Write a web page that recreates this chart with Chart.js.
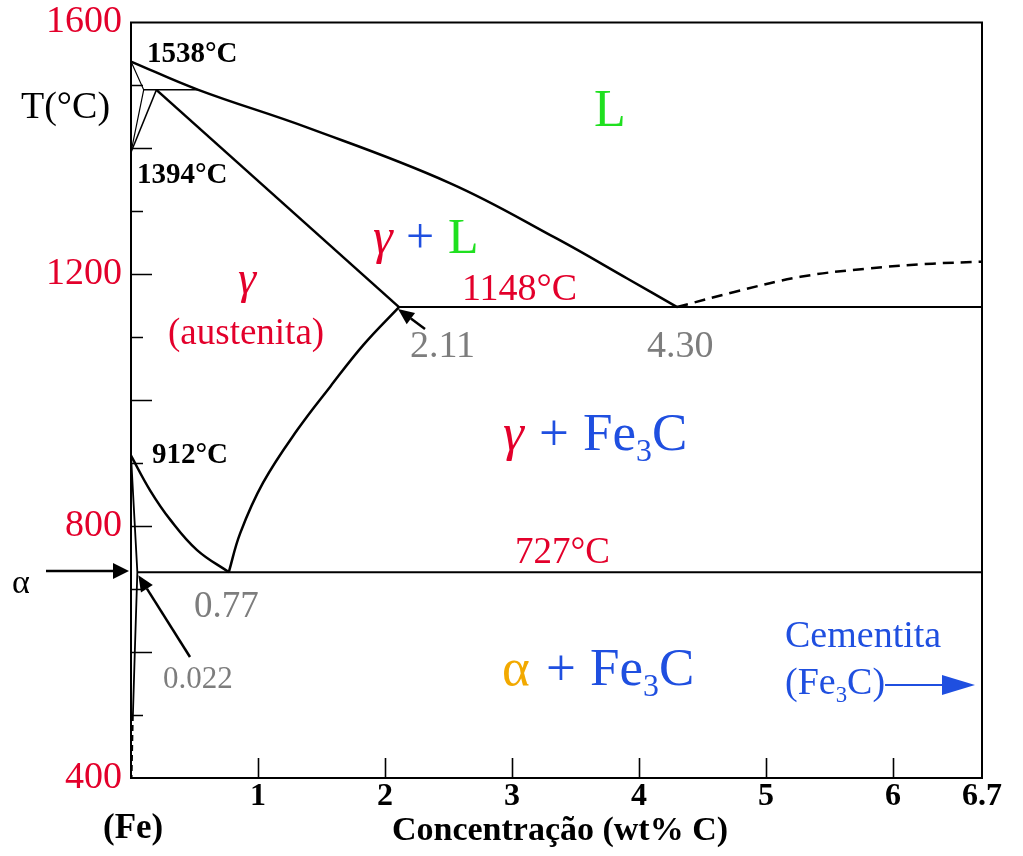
<!DOCTYPE html>
<html>
<head>
<meta charset="utf-8">
<script src="https://cdn.jsdelivr.net/npm/chart.js@4"></script>
<style>
    html, body { margin: 0; padding: 0; background: #fff; }
    #wrap { width: 1023px; height: 856px; position: relative; }
</style>
</head>
<body>
<div id="wrap"><canvas id="phaseChart"></canvas></div>
<script>
// Fe-Fe3C phase diagram, x = wt% C, y = temperature (°C)
const liquidusC = [0, 0.53, 1.39, 2.51, 3.35, 3.91, 4.30];
const liquidusT = [1538, 1493, 1433, 1345, 1257, 1193, 1148];
const cementiteLiqC = [4.30, 4.75, 5.27, 5.79, 6.31, 6.7];
const cementiteLiqT = [1148, 1172, 1196, 1209, 1217, 1220];
const solidusC = [0.2, 2.11];
const solidusT = [1493, 1148];
const acmC = [0.77, 0.86, 1.04, 1.31, 1.57, 1.83, 2.11];
const acmT = [727, 789, 869, 953, 1022, 1088, 1148];
const a3C = [0, 0.15, 0.31, 0.52, 0.77];
const a3T = [912, 857, 810, 762, 727];
const eutecticC = [2.11, 6.7];
const eutecticT = [1148, 1148];
const eutectoidC = [0.05, 6.7];
const eutectoidT = [727, 727];
const alphaC = [0, 0.05, 0.03, 0.015, 0.005];
const alphaT = [912, 727, 600, 500, 400];
const peritecticC = [0.1, 0.53];
const peritecticT = [1493, 1493];
const deltaC = [0, 0.1, 0];
const deltaT = [1538, 1493, 1394];
const deltaGammaC = [0.2, 0];
const deltaGammaT = [1493, 1394];

const xTicks = [1, 2, 3, 4, 5, 6, 6.7];
const yLabelTicks = [400, 800, 1200, 1600];
const yMarkTicks = [500, 600, 700, 800, 900, 1000, 1100, 1200, 1300, 1400, 1500];

const SERIF = '"Liberation Serif", "Times New Roman", serif';
const RED = '#e3002b';
const GREEN = '#1fe01f';
const BLUE = '#1f4fe0';
const GRAY = '#7d7d7d';
const ORANGE = '#f2a900';

function pts(xs, ys) {
    return xs.map((x, i) => ({ x: x, y: ys[i] }));
}

function line(label, xs, ys, width, extra) {
    return Object.assign({
        label: label,
        data: pts(xs, ys),
        showLine: true,
        borderColor: '#000',
        borderWidth: width,
        pointRadius: 0,
        tension: 0,
        clip: false
    }, extra || {});
}

function txt(ctx, s, x, y, size, color, weight, style) {
    ctx.font = (style || 'normal') + ' ' + (weight || 'normal') + ' ' + size + 'px ' + SERIF;
    ctx.fillStyle = color;
    ctx.textAlign = 'left';
    ctx.textBaseline = 'alphabetic';
    ctx.fillText(s, x, y);
    return x + ctx.measureText(s).width;
}

// "Fe3C" with subscript
function fe3c(ctx, x, y, size, color) {
    let nx = txt(ctx, 'Fe', x, y, size, color);
    nx = txt(ctx, '3', nx, y + size * 0.2, size * 0.6, color);
    return txt(ctx, 'C', nx, y, size, color);
}

function arrow(ctx, x1, y1, x2, y2, head, half, color, lw) {
    const a = Math.atan2(y2 - y1, x2 - x1);
    const bx = x2 - head * Math.cos(a), by = y2 - head * Math.sin(a);
    ctx.strokeStyle = color;
    ctx.fillStyle = color;
    ctx.lineWidth = lw;
    ctx.beginPath();
    ctx.moveTo(x1, y1);
    ctx.lineTo(bx, by);
    ctx.stroke();
    ctx.beginPath();
    ctx.moveTo(x2, y2);
    ctx.lineTo(bx + half * Math.sin(a), by - half * Math.cos(a));
    ctx.lineTo(bx - half * Math.sin(a), by + half * Math.cos(a));
    ctx.closePath();
    ctx.fill();
}

const decorPlugin = {
    id: 'decor',
    beforeDraw(chart) {
        const ctx = chart.ctx;
        ctx.save();
        ctx.fillStyle = '#fff';
        ctx.fillRect(0, 0, chart.width, chart.height);
        ctx.restore();
    },
    afterDraw(chart) {
        const ctx = chart.ctx;
        const a = chart.chartArea;
        const xs = chart.scales.x, ys = chart.scales.y;
        ctx.save();

        // frame
        ctx.strokeStyle = '#000';
        ctx.lineWidth = 2;
        ctx.strokeRect(a.left, a.top, a.right - a.left, a.bottom - a.top);

        // inner tick marks
        ctx.lineWidth = 1.6;
        ctx.beginPath();
        yMarkTicks.forEach(v => {
            const py = Math.round(ys.getPixelForValue(v)) + 0.5;
            const len = v % 200 === 0 ? 21 : 12;
            ctx.moveTo(a.left, py);
            ctx.lineTo(a.left + len, py);
        });
        xTicks.slice(0, 6).forEach(v => {
            const px = Math.round(xs.getPixelForValue(v)) + 0.5;
            ctx.moveTo(px, a.bottom);
            ctx.lineTo(px, a.bottom - 20);
        });
        ctx.stroke();

        // axis texts
        txt(ctx, 'T(°C)', 21, 118, 38, '#000');
        txt(ctx, 'α', 12, 593, 34, '#000');
        txt(ctx, '(Fe)', 103, 838, 35, '#000', 'bold');
        ctx.font = 'bold 34px ' + SERIF;
        const title = 'Concentração (wt% C)';
        txt(ctx, title, 560 - ctx.measureText(title).width / 2, 840, 34, '#000', 'bold');

        // temperature labels
        txt(ctx, '1538°C', 147, 62, 29, '#000', 'bold');
        txt(ctx, '1394°C', 137, 183, 29, '#000', 'bold');
        txt(ctx, '912°C', 152, 463, 29, '#000', 'bold');
        txt(ctx, '1148°C', 462, 300, 38, RED);
        txt(ctx, '727°C', 515, 563, 37, RED);

        // composition labels
        txt(ctx, '2.11', 410, 357, 38, GRAY);
        txt(ctx, '4.30', 647, 357, 38, GRAY);
        txt(ctx, '0.77', 194, 617, 37, GRAY);
        txt(ctx, '0.022', 163, 688, 31, GRAY);

        // phase fields
        txt(ctx, 'L', 594, 126, 52, GREEN);
        txt(ctx, 'γ', 373, 253, 50, RED, 'normal', 'italic');
        txt(ctx, '+', 406, 253, 50, BLUE);
        txt(ctx, 'L', 448, 253, 50, GREEN);
        txt(ctx, 'γ', 238, 293, 46, RED, 'normal', 'italic');
        txt(ctx, '(austenita)', 168, 344, 37, RED);
        txt(ctx, 'γ', 503, 450, 53, RED, 'normal', 'italic');
        txt(ctx, '+', 539, 450, 53, BLUE);
        fe3c(ctx, 583, 450, 53, BLUE);
        txt(ctx, 'α', 502, 685, 53, ORANGE);
        txt(ctx, '+', 546, 685, 53, BLUE);
        fe3c(ctx, 590, 685, 53, BLUE);
        txt(ctx, 'Cementita', 785, 647, 38, BLUE);
        let nx = txt(ctx, '(', 785, 694, 38, BLUE);
        nx = fe3c(ctx, nx, 694, 38, BLUE);
        nx = txt(ctx, ')', nx, 694, 38, BLUE);

        // arrows
        arrow(ctx, 46, 571, a.left - 2, 571, 16, 8, '#000', 2.5);
        arrow(ctx, 190, 657, xs.getPixelForValue(0.05) + 1, ys.getPixelForValue(727) + 3, 16, 7, '#000', 2.5);
        arrow(ctx, 425, 329, xs.getPixelForValue(2.11) - 1, ys.getPixelForValue(1148) + 2, 16, 7, '#000', 2.5);
        arrow(ctx, nx, 685, 975, 685, 33, 10, BLUE, 2);

        ctx.restore();
    }
};

new Chart(document.getElementById('phaseChart'), {
    type: 'scatter',
    data: {
        datasets: [
            line('Liquidus', liquidusC, liquidusT, 2.5, { tension: 0.4 }),
            line('Liquidus Fe3C', cementiteLiqC, cementiteLiqT, 2.5, { tension: 0.4, borderDash: [11, 7] }),
            line('Solidus', solidusC, solidusT, 2.5),
            line('Acm', acmC, acmT, 2.5, { tension: 0.4 }),
            line('A3', a3C, a3T, 2.5, { tension: 0.4 }),
            line('Eutetico', eutecticC, eutecticT, 2),
            line('Eutetoide', eutectoidC, eutectoidT, 2),
            line('Alfa', alphaC, alphaT, 1.8, {
                segment: { borderDash: c => c.p0DataIndex >= 3 ? [6, 4] : undefined }
            }),
            line('Peritetico', peritecticC, peritecticT, 1.5),
            line('Delta', deltaC, deltaT, 1.2),
            line('Delta gama', deltaGammaC, deltaGammaT, 1.5)
        ]
    },
    options: {
        responsive: true,
        maintainAspectRatio: false,
        animation: false,
        layout: { padding: { top: 22.5, right: 41, bottom: 0, left: 0 } },
        plugins: { legend: { display: false }, tooltip: { enabled: false } },
        scales: {
            x: {
                type: 'linear',
                min: 0,
                max: 6.7,
                grid: { display: false, drawTicks: false },
                border: { display: false },
                afterBuildTicks: s => { s.ticks = xTicks.map(v => ({ value: v })); },
                afterFit: s => {
                    s.height = 78;
                    s.paddingLeft = 0;
                    s.paddingRight = 0;
                },
                ticks: {
                    padding: 0,
                    color: '#000',
                    autoSkip: false,
                    maxRotation: 0,
                    font: { family: SERIF, size: 32, weight: 'bold' },
                    callback: v => String(v)
                }
            },
            y: {
                type: 'linear',
                min: 400,
                max: 1600,
                grid: { display: false, drawTicks: false },
                border: { display: false },
                afterBuildTicks: s => { s.ticks = yLabelTicks.map(v => ({ value: v })); },
                afterFit: s => {
                    s.width = 131;
                    s.paddingTop = 0;
                    s.paddingBottom = 0;
                },
                ticks: {
                    padding: 9,
                    color: RED,
                    autoSkip: false,
                    font: { family: SERIF, size: 38 },
                    callback: v => String(v)
                }
            }
        }
    },
    plugins: [decorPlugin]
});
</script>
</body>
</html>
